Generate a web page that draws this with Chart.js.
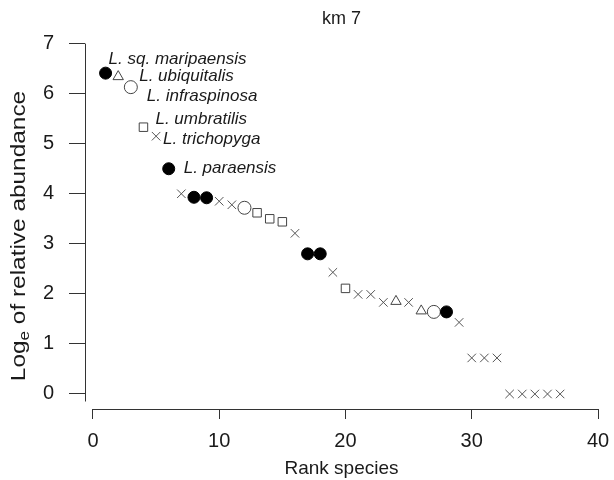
<!DOCTYPE html>
<html>
<head>
<meta charset="utf-8">
<script src="https://cdn.jsdelivr.net/npm/chart.js@4.4.1/dist/chart.umd.min.js"></script>
<style>
  html, body { margin: 0; padding: 0; background: #fff; }
  #wrap { width: 614px; height: 480px; }
</style>
</head>
<body>
<div id="wrap"><canvas id="myChart"></canvas></div>
<script>
// rank / abundance values, one pair of arrays per marker type
var filledRank = [1, 6, 8, 9, 17, 18, 28];
var filledVal = [6.41, 4.5, 3.93, 3.92, 2.8, 2.8, 1.64];
var openRank = [3, 12, 27];
var openVal = [6.13, 3.72, 1.64];
var triRank = [2, 24, 26];
var triVal = [6.34, 1.85, 1.66];
var sqRank = [4, 13, 14, 15, 20];
var sqVal = [5.33, 3.62, 3.5, 3.44, 2.11];
var crossRank = [5, 7, 10, 11, 16, 19, 21, 22, 23, 25, 29, 30, 31, 32, 33, 34, 35, 36, 37];
var crossVal = [5.15, 4.0, 3.85, 3.78, 3.21, 2.43, 1.99, 1.99, 1.83, 1.83, 1.43, 0.72, 0.72, 0.72, 0, 0, 0, 0, 0];

// named species and the rank they sit at
var speciesNames = ['L. sq. maripaensis', 'L. ubiquitalis', 'L. infraspinosa', 'L. umbratilis', 'L. trichopyga', 'L. paraensis'];
var speciesRank = [1, 2, 3, 4, 5, 6];

var xTicks = [0, 10, 20, 30, 40];
var yTicks = [0, 1, 2, 3, 4, 5, 6, 7];

var FONT = '"Liberation Sans", Arial, Helvetica, sans-serif';
var INK = '#1a1a1a';

function pts(r, v) {
  return r.map(function (x, i) { return { x: x, y: v[i] }; });
}

function valueAtRank(rank) {
  var sets = [[filledRank, filledVal], [openRank, openVal], [triRank, triVal], [sqRank, sqVal], [crossRank, crossVal]];
  for (var s = 0; s < sets.length; s++) {
    var i = sets[s][0].indexOf(rank);
    if (i >= 0) return sets[s][1][i];
  }
  return 0;
}

// axis lines that stop at the ends of the ranges, like the original
var axisLines = {
  id: 'axisLines',
  beforeDatasetsDraw: function (chart) {
    var ctx = chart.ctx, x = chart.scales.x, y = chart.scales.y, a = chart.chartArea;
    ctx.save();
    ctx.strokeStyle = '#333';
    ctx.lineWidth = 1;
    ctx.beginPath();
    ctx.moveTo(a.left + 0.5, y.getPixelForValue(7));
    ctx.lineTo(a.left + 0.5, y.getPixelForValue(-0.15));
    ctx.moveTo(x.getPixelForValue(0), a.bottom + 0.5);
    ctx.lineTo(x.getPixelForValue(40), a.bottom + 0.5);
    ctx.stroke();
    ctx.restore();
  }
};

// y title with subscript e (scan of the original is stretched vertically)
var yTitle = {
  id: 'yTitle',
  afterDraw: function (chart) {
    var ctx = chart.ctx;
    ctx.save();
    ctx.fillStyle = INK;
    ctx.textBaseline = 'middle';
    ctx.textAlign = 'left';
    var big = '20px ' + FONT, small = '14px ' + FONT;
    ctx.font = big;
    var w1 = ctx.measureText('Log').width;
    var w3 = ctx.measureText(' of relative abundance').width;
    ctx.font = small;
    var w2 = ctx.measureText('e').width;
    var total = w1 + w2 + w3;
    ctx.translate(19, 236);
    ctx.rotate(-Math.PI / 2);
    ctx.scale(1.22, 1);
    var sx = -total / 2;
    ctx.font = big;
    ctx.fillText('Log', sx, 0);
    ctx.font = small;
    ctx.fillText('e', sx + w1, 6);
    ctx.font = big;
    ctx.fillText(' of relative abundance', sx + w1 + w2, 0);
    ctx.restore();
  }
};

// italic species names next to their points
var labelOffsets = [[3, -14], [21, 0], [16, 9], [12, -8], [7, 3], [15, 0]];
var speciesLabels = {
  id: 'speciesLabels',
  afterDatasetsDraw: function (chart) {
    var ctx = chart.ctx, x = chart.scales.x, y = chart.scales.y;
    ctx.save();
    ctx.fillStyle = INK;
    ctx.font = 'italic 17px ' + FONT;
    ctx.textBaseline = 'middle';
    ctx.textAlign = 'left';
    speciesNames.forEach(function (name, i) {
      var r = speciesRank[i];
      var px = x.getPixelForValue(r) + labelOffsets[i][0];
      var py = y.getPixelForValue(valueAtRank(r)) + labelOffsets[i][1];
      ctx.fillText(name, px, py);
    });
    ctx.restore();
  }
};

var ctx = document.getElementById('myChart').getContext('2d');
var chart = new Chart(ctx, {
  type: 'scatter',
  data: {
    datasets: [
      { label: 'filled', data: pts(filledRank, filledVal), pointStyle: 'circle', pointRadius: 6, backgroundColor: '#000', borderColor: '#000', borderWidth: 1 },
      { label: 'open', data: pts(openRank, openVal), pointStyle: 'circle', pointRadius: 6.5, backgroundColor: '#fff', borderColor: '#444', borderWidth: 1 },
      { label: 'triangle', data: pts(triRank, triVal), pointStyle: 'triangle', pointRadius: 6, backgroundColor: '#fff', borderColor: '#444', borderWidth: 1 },
      { label: 'square', data: pts(sqRank, sqVal), pointStyle: 'rect', pointRadius: 6, backgroundColor: '#fff', borderColor: '#444', borderWidth: 1 },
      { label: 'cross', data: pts(crossRank, crossVal), pointStyle: 'crossRot', pointRadius: 6, backgroundColor: '#fff', borderColor: '#555', borderWidth: 1 }
    ]
  },
  options: {
    responsive: true,
    maintainAspectRatio: false,
    animation: false,
    layout: { padding: { left: 0, right: 16, top: 0, bottom: 0 } },
    plugins: {
      legend: { display: false },
      tooltip: { enabled: false },
      title: {
        display: true,
        text: 'km 7',
        fullSize: false,
        color: INK,
        font: { family: FONT, size: 18, weight: 'normal' },
        padding: { top: 8, bottom: 14 }
      }
    },
    scales: {
      x: {
        type: 'linear',
        min: -0.63,
        max: 40,
        afterFit: function (s) { s.height = 71; s.paddingLeft = 0; s.paddingRight = 0; },
        afterBuildTicks: function (s) { s.ticks = xTicks.map(function (v) { return { value: v }; }); },
        border: { display: false },
        grid: { drawOnChartArea: false, drawTicks: true, tickLength: 10, color: '#333' },
        ticks: { color: INK, padding: 10, font: { family: FONT, size: 20 }, maxRotation: 0 },
        title: { display: true, text: 'Rank species', color: INK, font: { family: FONT, size: 19 }, padding: { top: 0, bottom: 0 } }
      },
      y: {
        type: 'linear',
        min: -0.3,
        max: 7,
        afterFit: function (s) { s.width = 85; },
        afterBuildTicks: function (s) { s.ticks = yTicks.map(function (v) { return { value: v }; }); },
        border: { display: false },
        grid: { drawOnChartArea: false, drawTicks: true, tickLength: 16, color: '#333' },
        ticks: { color: INK, padding: 15, font: { family: FONT, size: 20 } }
      }
    }
  },
  plugins: [axisLines, yTitle, speciesLabels]
});
</script>
</body>
</html>
